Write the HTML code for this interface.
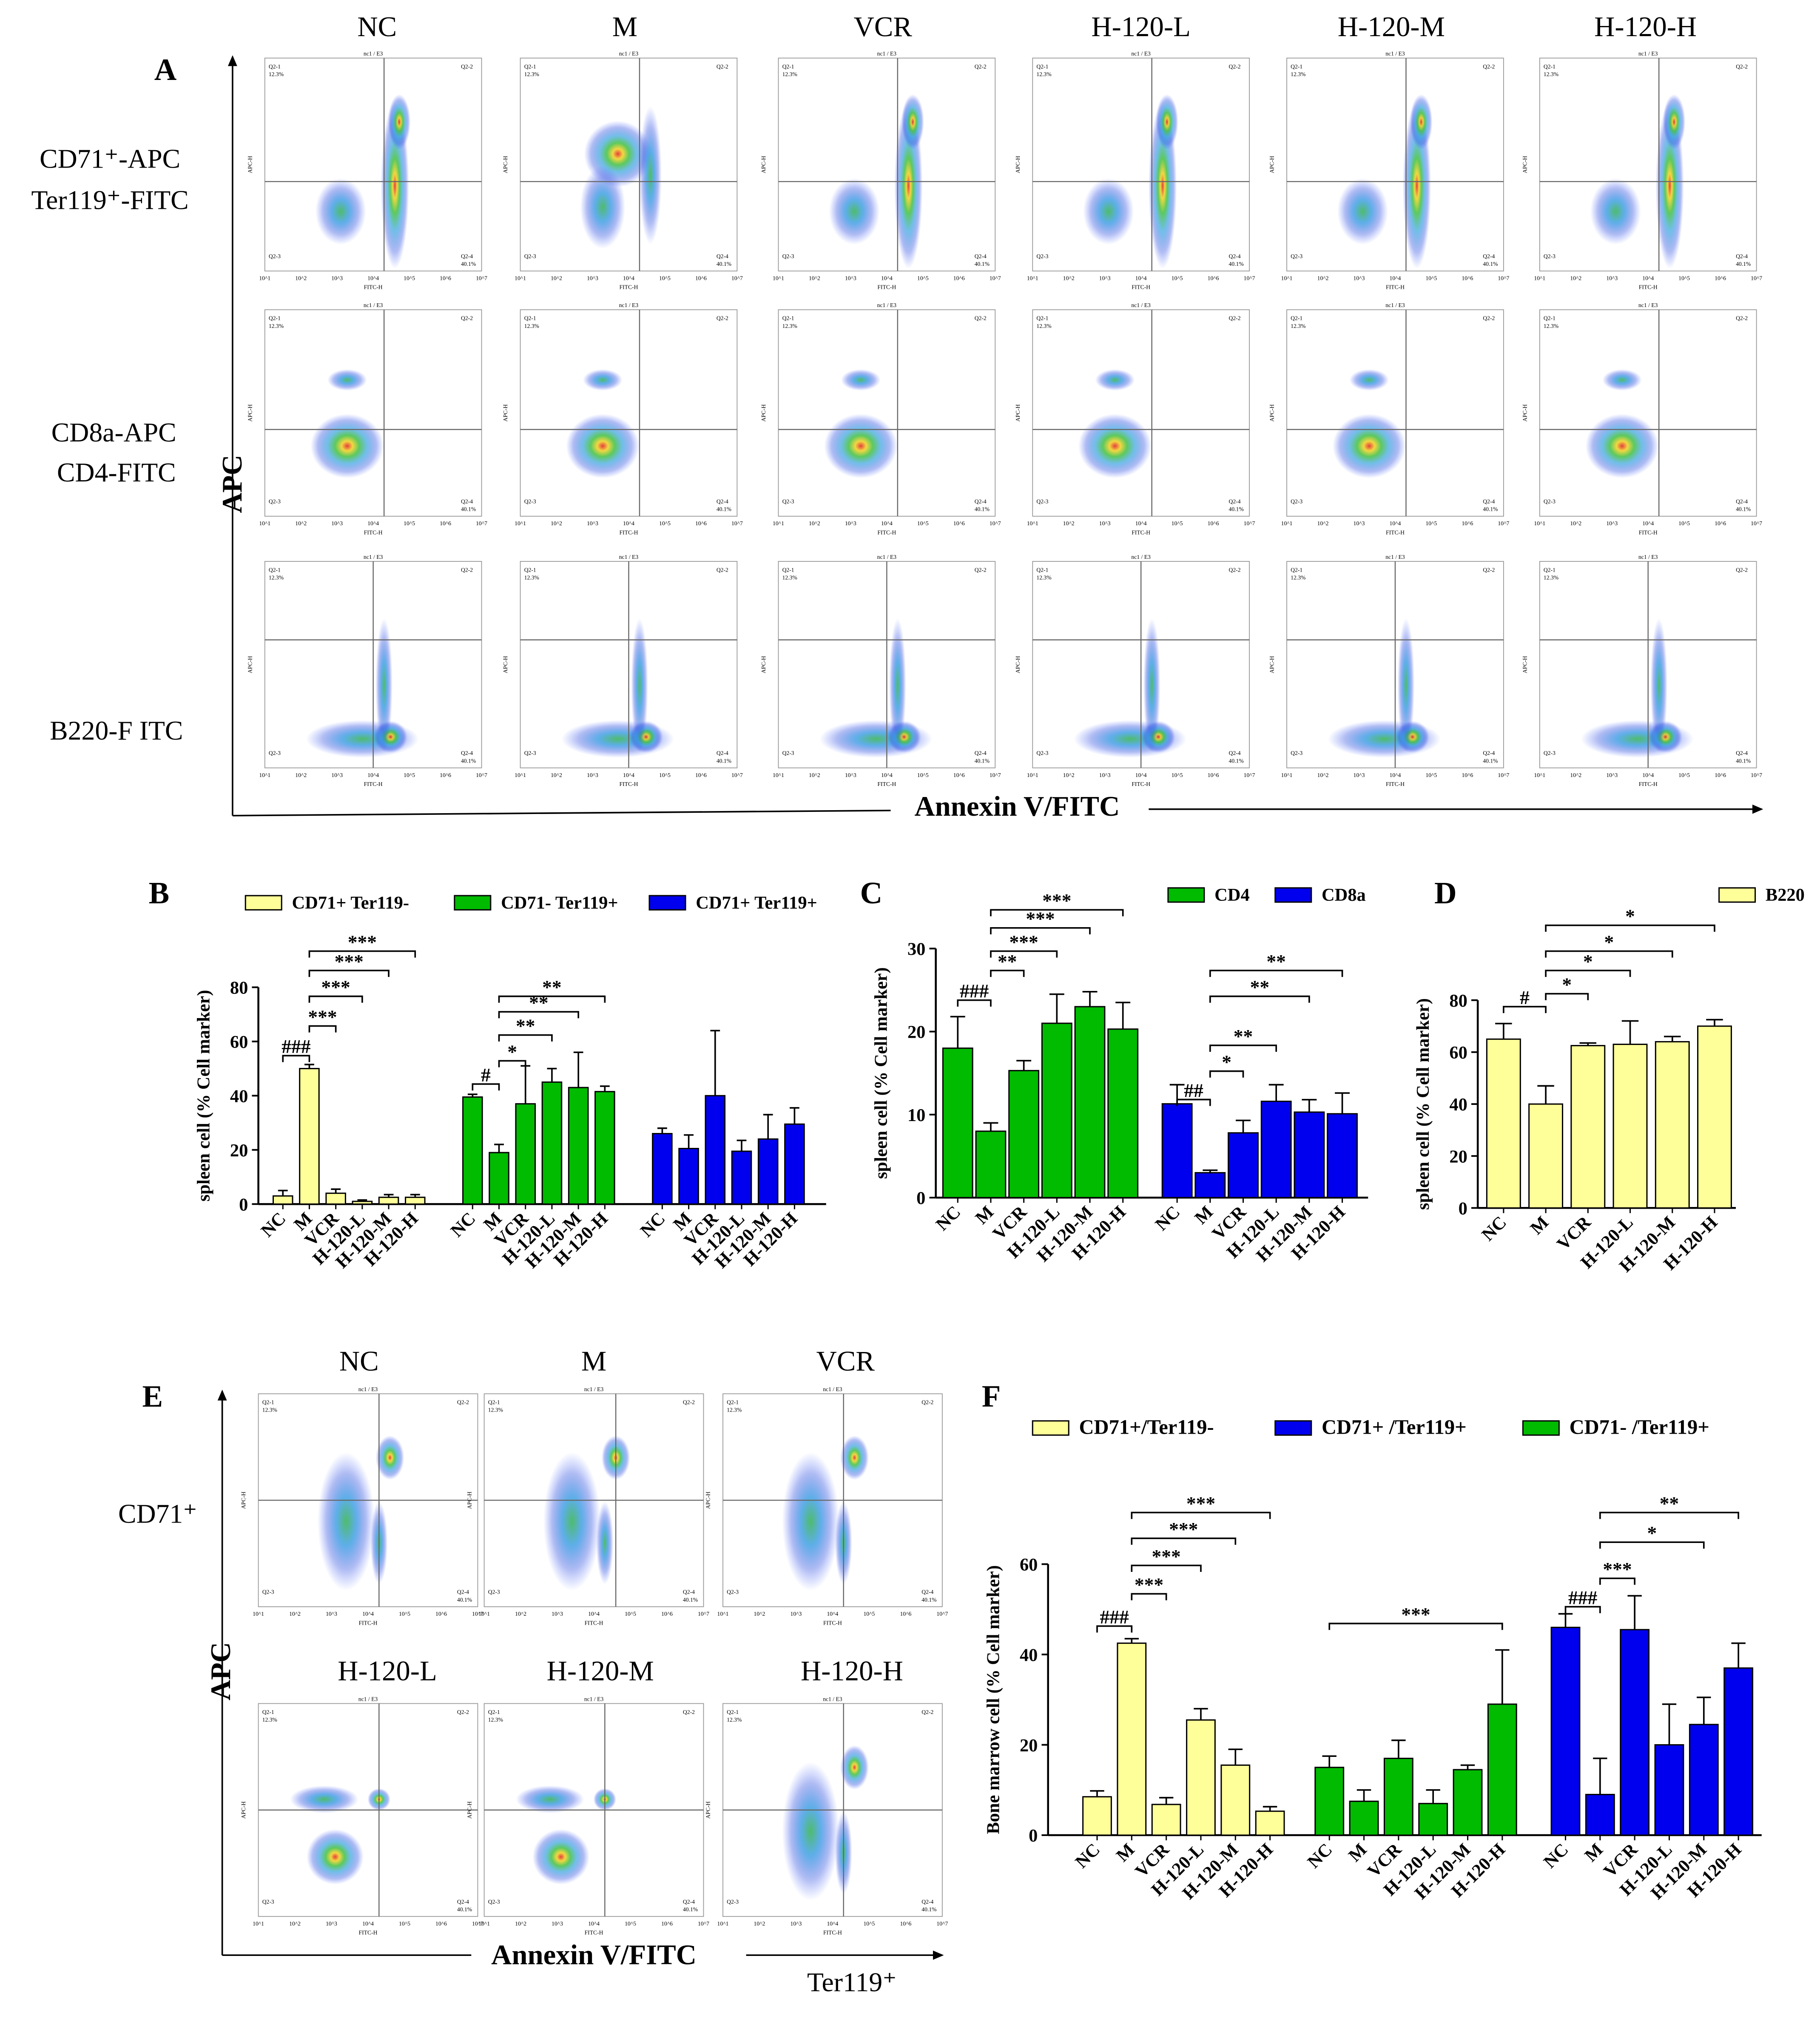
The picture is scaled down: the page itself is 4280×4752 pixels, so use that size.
<!DOCTYPE html>
<html><head><meta charset="utf-8">
<style>
html,body{margin:0;padding:0;background:#fff;}
svg{display:block;}
text{font-family:"Liberation Serif",serif;}
</style></head>
<body>
<svg id="fig" width="4280" height="4752" viewBox="0 0 1410 1566" xmlns="http://www.w3.org/2000/svg">
<defs>
<radialGradient id="heat" cx="50%" cy="50%" r="50%">
<stop offset="0" stop-color="#e0201a"/>
<stop offset="0.15" stop-color="#f0d020"/>
<stop offset="0.33" stop-color="#40c040"/>
<stop offset="0.55" stop-color="#30a0e0" stop-opacity="0.8"/>
<stop offset="0.8" stop-color="#3050e0" stop-opacity="0.45"/>
<stop offset="1" stop-color="#4060ff" stop-opacity="0"/>
</radialGradient>
<radialGradient id="cool" cx="50%" cy="50%" r="50%">
<stop offset="0" stop-color="#30b050"/>
<stop offset="0.35" stop-color="#2090e0" stop-opacity="0.85"/>
<stop offset="0.7" stop-color="#3050e0" stop-opacity="0.45"/>
<stop offset="1" stop-color="#4060ff" stop-opacity="0"/>
</radialGradient>
<marker id="arr" markerWidth="8" markerHeight="8" refX="6" refY="3" orient="auto"><path d="M0,0 L7,3 L0,6 z" fill="#000"/></marker>
</defs>
<g id="root"></g>
</svg>
<script>
// ---------- Data ----------
const groups = ["NC","M","VCR","H-120-L","H-120-M","H-120-H"];
const bG1 = [3,50,4,1,2.5,2.5], bG1e=[2,1.5,1.5,0.5,1,1];
const bG2 = [39.5,19,37,45,43,41.5], bG2e=[1,3,14,5,13,2];
const bG3 = [26,20.5,40,19.5,24,29.5], bG3e=[2,5,24,4,9,6];
const bTicks = [0,20,40,60,80];
const cG1 = [18,8,15.3,21,23,20.3], cG1e=[3.8,1,1.2,3.5,1.8,3.2];
const cG2 = [11.3,3,7.8,11.6,10.3,10.1], cG2e=[2.3,0.3,1.5,2,1.5,2.5];
const cTicks = [0,10,20,30];
const dG1 = [65,40,62.5,63,64,70], dG1e=[6,7,1,9,2,2.5];
const dTicks = [0,20,40,60,80];
const fG1 = [8.5,42.5,6.8,25.5,15.5,5.3], fG1e=[1.3,1,1.5,2.5,3.5,1];
const fG2 = [15,7.5,17,7,14.5,29], fG2e=[2.5,2.5,4,3,1,12];
const fG3 = [46,9,45.5,20,24.5,37], fG3e=[3,8,7.5,9,6,5.5];
const fTicks = [0,20,40,60];

const NS="http://www.w3.org/2000/svg";
const root=document.getElementById('root');
function el(tag,attrs,parent,txt){const e=document.createElementNS(NS,tag);for(const k in attrs)e.setAttribute(k,attrs[k]);if(txt!==undefined)e.textContent=txt;(parent||root).appendChild(e);return e;}
function txt(x,y,s,size,opts,name){opts=opts||{};const t=el('text',Object.assign({x:x,y:y,'font-size':size,'font-weight':opts.w||'bold','text-anchor':opts.a||'middle',fill:opts.fill||'#000'},opts.tr?{transform:opts.tr}:{}),null,s);


return t;}

// ---------- Flow plots ----------
const blobSets = {
 r1:[[0.35,0.72,0.09,0.12,'cool'],[0.6,0.6,0.05,0.3,'heat'],[0.62,0.3,0.04,0.1,'heat']],
 r1m:[[0.45,0.45,0.12,0.12,'heat'],[0.38,0.7,0.08,0.15,'cool'],[0.6,0.55,0.04,0.25,'cool']],
 r2:[[0.38,0.66,0.13,0.12,'heat'],[0.38,0.34,0.07,0.04,'cool']],
 r3:[[0.45,0.86,0.2,0.07,'cool'],[0.58,0.85,0.06,0.06,'heat'],[0.55,0.6,0.03,0.25,'cool']],
 e1:[[0.4,0.6,0.1,0.25,'cool'],[0.6,0.3,0.05,0.08,'heat'],[0.55,0.7,0.03,0.15,'cool']],
 e2:[[0.3,0.45,0.12,0.05,'cool'],[0.55,0.45,0.04,0.04,'heat'],[0.35,0.72,0.1,0.1,'heat']]
};
function flow(x,y,w,h,set,qx,qy,name){
 const g=el('g',{});
 
 
 el('rect',{x:x,y:y,width:w,height:h,fill:'#fff',stroke:'#999','stroke-width':0.6},g);
 for(const b of blobSets[set]){
  el('ellipse',{cx:x+b[0]*w,cy:y+b[1]*h,rx:b[2]*w*1.3,ry:b[3]*h*1.3,fill:'url(#'+b[4]+')',opacity:0.85},g);
 }
 el('line',{x1:x+qx*w,y1:y,x2:x+qx*w,y2:y+h,stroke:'#666','stroke-width':0.8},g);
 el('line',{x1:x,y1:y+qy*h,x2:x+w,y2:y+qy*h,stroke:'#666','stroke-width':0.8},g);
 const f={'font-size':4.5,'font-family':'Liberation Sans'};
 el('text',Object.assign({x:x+3,y:y+8},f),g,'Q2-1');
 el('text',Object.assign({x:x+w-16,y:y+8},f),g,'Q2-2');
 el('text',Object.assign({x:x+3,y:y+h-10},f),g,'Q2-3');
 el('text',Object.assign({x:x+w-16,y:y+h-10},f),g,'Q2-4');
 el('text',Object.assign({x:x+3,y:y+14},f),g,'12.3%');
 el('text',Object.assign({x:x+w-16,y:y+h-4},f),g,'40.1%');
 el('text',Object.assign({x:x+w/2,y:y-2,'text-anchor':'middle'},f),g,'nc1 / E3');
 el('text',Object.assign({x:x+w/2,y:y+h+14,'text-anchor':'middle'},f),g,'FITC-H');
 for(let i=0;i<7;i++)el('text',Object.assign({x:x+i*w/6,y:y+h+7,'text-anchor':'middle'},f),g,'10^'+(i+1));
 el('text',Object.assign({x:x-10,y:y+h/2,transform:'rotate(-90 '+(x-10)+' '+(y+h/2)+')','text-anchor':'middle'},f),g,'APC-H');
}
// Panel A
const colX=[205,403,603,800,997,1193], rowY=[45,240,435], pw=168, ph=168;
const headers=[292,484,684,884,1078,1275];
groups.forEach((gname,i)=>txt(headers[i],28,gname,22,{w:'normal'},'col-header-'+gname.toLowerCase()));
for(let r=0;r<3;r++)for(let c=0;c<6;c++){
 const set=r===0?(c===1?'r1m':'r1'):(r===1?'r2':'r3');
 flow(colX[c],rowY[r],pw,r===0?165:160,set,r===2?0.5:0.55,r===2?0.38:0.58,'flow-plot-r'+(r+1)+'-c'+(c+1));
}
txt(128,62,'A',24,{},'panel-a-label');
txt(85,130,'CD71⁺-APC',21,{w:'normal'},'row-label-cd71');
txt(85,162,'Ter119⁺-FITC',21,{w:'normal'},'row-label-ter119');
txt(88,342,'CD8a-APC',21,{w:'normal'},'row-label-cd8a');
txt(90,373,'CD4-FITC',21,{w:'normal'},'row-label-cd4');
txt(90,573,'B220-F ITC',21,{w:'normal'},'row-label-b220');
el('line',{x1:180,y1:632,x2:180,y2:44,stroke:'#000','stroke-width':1.2,'marker-end':'url(#arr)'});
el('line',{x1:180,y1:632,x2:690,y2:628,stroke:'#000','stroke-width':1.2});
el('line',{x1:890,y1:627,x2:1365,y2:627,stroke:'#000','stroke-width':1.2,'marker-end':'url(#arr)'});
txt(187,375,'APC',22,{tr:'rotate(-90 187 375)'},'a-y-axis-title');
txt(788,632,'Annexin V/FITC',22,{},'a-x-axis-title');

// ---------- Bar chart helper ----------
function barChart(o){
 const ys=v=>o.y0-(v-0)*(o.y0-o.yTop)/(o.max);
 el('line',{x1:o.ax,y1:o.yTop,x2:o.ax,y2:o.y0,stroke:'#000','stroke-width':1.5});
 el('line',{x1:o.ax,y1:o.y0,x2:o.xEnd,y2:o.y0,stroke:'#000','stroke-width':1.5});
 o.ticks.forEach(t=>{el('line',{x1:o.ax-5,y1:ys(t),x2:o.ax,y2:ys(t),stroke:'#000','stroke-width':1.3});txt(o.ax-8,ys(t)+5,String(t),14,{a:'end'},'y-tick-'+t);});
 o.series.forEach((s,si)=>{
  s.vals.forEach((v,i)=>{
   const cx=s.x0+i*o.sp;
   const r=el('rect',{x:cx-o.bw/2,y:ys(v),width:o.bw,height:o.y0-ys(v),fill:s.color,stroke:'#000','stroke-width':1});
   
   
   const e=s.errs[i];
   el('line',{x1:cx,y1:ys(v),x2:cx,y2:ys(v+e),stroke:'#000','stroke-width':1.2});
   el('line',{x1:cx-o.bw/4,y1:ys(v+e),x2:cx+o.bw/4,y2:ys(v+e),stroke:'#000','stroke-width':1.2});
   el('line',{x1:cx,y1:o.y0,x2:cx,y2:o.y0+4,stroke:'#000','stroke-width':1});
   const lx=cx+3,ly=o.y0+12;
   txt(lx,ly,groups[i],14,{a:'end',tr:'rotate(-45 '+lx+' '+ly+')'},'x-label-'+groups[i].toLowerCase());
  });
 });
 txt(o.ax-38,(o.y0+o.yTop)/2,o.ytitle,14,{tr:'rotate(-90 '+(o.ax-38)+' '+((o.y0+o.yTop)/2)+')'},'y-axis-title');
 (o.brackets||[]).forEach(b=>{
  const s=o.series[b[0]];const x1=s.x0+b[1]*o.sp,x2=s.x0+b[2]*o.sp;
  el('path',{d:`M${x1},${b[3]+5} V${b[3]} H${x2} V${b[3]+5}`,fill:'none',stroke:'#000','stroke-width':1.2});
  txt((x1+x2)/2,b[3]-2,b[4],15,{},'significance-'+b[4].replace(/\*/g,'star').replace(/#/g,'hash'));
 });
 return ys;
}
function legend(x,y,color,label,size){
 const r=el('rect',{x:x,y:y-9,width:28,height:11,fill:color,stroke:'#000','stroke-width':1});
 
 
 txt(x+36,y+1,label,size||14,{a:'start'},'legend-entry');
}
const YEL='#ffff99', GRN='#00bb00', BLU='#0000ee';
// Panel B
txt(123,700,'B',24,{},'panel-b-label');
legend(190,703,YEL,'CD71+ Ter119-');legend(352,703,GRN,'CD71- Ter119+');legend(503,703,BLU,'CD71+ Ter119+');
barChart({ax:200,y0:933,yTop:765,max:80,xEnd:640,ticks:bTicks,bw:15,sp:20.5,ytitle:'spleen cell (% Cell marker)',
 series:[{name:'cd71p-ter119n',vals:bG1,errs:bG1e,x0:219,color:YEL},{name:'cd71n-ter119p',vals:bG2,errs:bG2e,x0:366,color:GRN},{name:'cd71p-ter119p',vals:bG3,errs:bG3e,x0:513,color:BLU}],
 brackets:[[0,0,1,818,'###'],[0,1,2,795,'***'],[0,1,3,772,'***'],[0,1,4,752,'***'],[0,1,5,737,'***'],[1,0,1,840,'#'],[1,1,2,822,'*'],[1,1,3,802,'**'],[1,1,4,784,'**'],[1,1,5,772,'**']]});
// Panel C
txt(675,700,'C',24,{},'panel-c-label');
legend(905,697,GRN,'CD4');legend(988,697,BLU,'CD8a');
barChart({ax:725,y0:928,yTop:735,max:30,xEnd:1060,ticks:cTicks,bw:23,sp:25.6,ytitle:'spleen cell (% Cell marker)',
 series:[{name:'cd4',vals:cG1,errs:cG1e,x0:742,color:GRN},{name:'cd8a',vals:cG2,errs:cG2e,x0:912,color:BLU}],
 brackets:[[0,0,1,775,'###'],[0,1,2,752,'**'],[0,1,3,737,'***'],[0,1,4,719,'***'],[0,1,5,705,'***'],[1,0,1,852,'##'],[1,1,2,830,'*'],[1,1,3,810,'**'],[1,1,4,772,'**'],[1,1,5,752,'**']]});
// Panel D
txt(1120,700,'D',24,{},'panel-d-label');
legend(1332,697,YEL,'B220');
barChart({ax:1145,y0:936,yTop:775,max:80,xEnd:1345,ticks:dTicks,bw:26,sp:32.7,ytitle:'spleen cell (% Cell marker)',
 series:[{name:'b220',vals:dG1,errs:dG1e,x0:1165,color:YEL}],
 brackets:[[0,0,1,780,'#'],[0,1,2,770,'*'],[0,1,3,752,'*'],[0,1,4,737,'*'],[0,1,5,717,'*']]});

// Panel E
txt(118,1090,'E',24,{},'panel-e-label');
const eX=[200,375,560], eY=[1080,1320];
[['NC',278],['M',460],['VCR',655]].forEach(h=>txt(h[1],1062,h[0],22,{w:'normal'},'e-header-'+h[0].toLowerCase()));
[['H-120-L',300],['H-120-M',465],['H-120-H',660]].forEach(h=>txt(h[1],1302,h[0],22,{w:'normal'},'e-header-'+h[0].toLowerCase()));
const eSets=[['e1','e1','e1'],['e2','e2','e1']];
for(let r=0;r<2;r++)for(let c=0;c<3;c++)flow(eX[c],eY[r],170,165,eSets[r][c],c===1&&r===0?0.6:0.55,0.5,'e-flow-plot-r'+(r+1)+'-c'+(c+1));
txt(122,1180,'CD71⁺',21,{w:'normal'},'e-row-label-cd71');
el('line',{x1:172,y1:1515,x2:172,y2:1078,stroke:'#000','stroke-width':1.2,'marker-end':'url(#arr)'});
el('line',{x1:172,y1:1515,x2:365,y2:1515,stroke:'#000','stroke-width':1.2});
el('line',{x1:578,y1:1515,x2:730,y2:1515,stroke:'#000','stroke-width':1.2,'marker-end':'url(#arr)'});
txt(178,1295,'APC',22,{tr:'rotate(-90 178 1295)'},'e-y-axis-title');
txt(460,1522,'Annexin V/FITC',22,{},'e-x-axis-title');
txt(660,1543,'Ter119⁺',21,{w:'normal'},'e-x-axis-ter119');

// Panel F
txt(768,1090,'F',24,{},'panel-f-label');
legend(800,1110,YEL,'CD71+/Ter119-',16);legend(988,1110,BLU,'CD71+ /Ter119+',16);legend(1180,1110,GRN,'CD71- /Ter119+',16);
barChart({ax:812,y0:1422,yTop:1212,max:60,xEnd:1365,ticks:fTicks,bw:22,sp:26.8,ytitle:'Bone marrow cell  (% Cell marker)',
 series:[{name:'cd71p-ter119n',vals:fG1,errs:fG1e,x0:850,color:YEL},{name:'cd71n-ter119p',vals:fG2,errs:fG2e,x0:1030,color:GRN},{name:'cd71p-ter119p',vals:fG3,errs:fG3e,x0:1213,color:BLU}],
 brackets:[[0,0,1,1260,'###'],[0,1,2,1235,'***'],[0,1,3,1213,'***'],[0,1,4,1192,'***'],[0,1,5,1172,'***'],[1,0,5,1258,'***'],[2,0,1,1245,'###'],[2,1,2,1223,'***'],[2,1,4,1195,'*'],[2,1,5,1172,'**']]});
</script>
</body></html>
